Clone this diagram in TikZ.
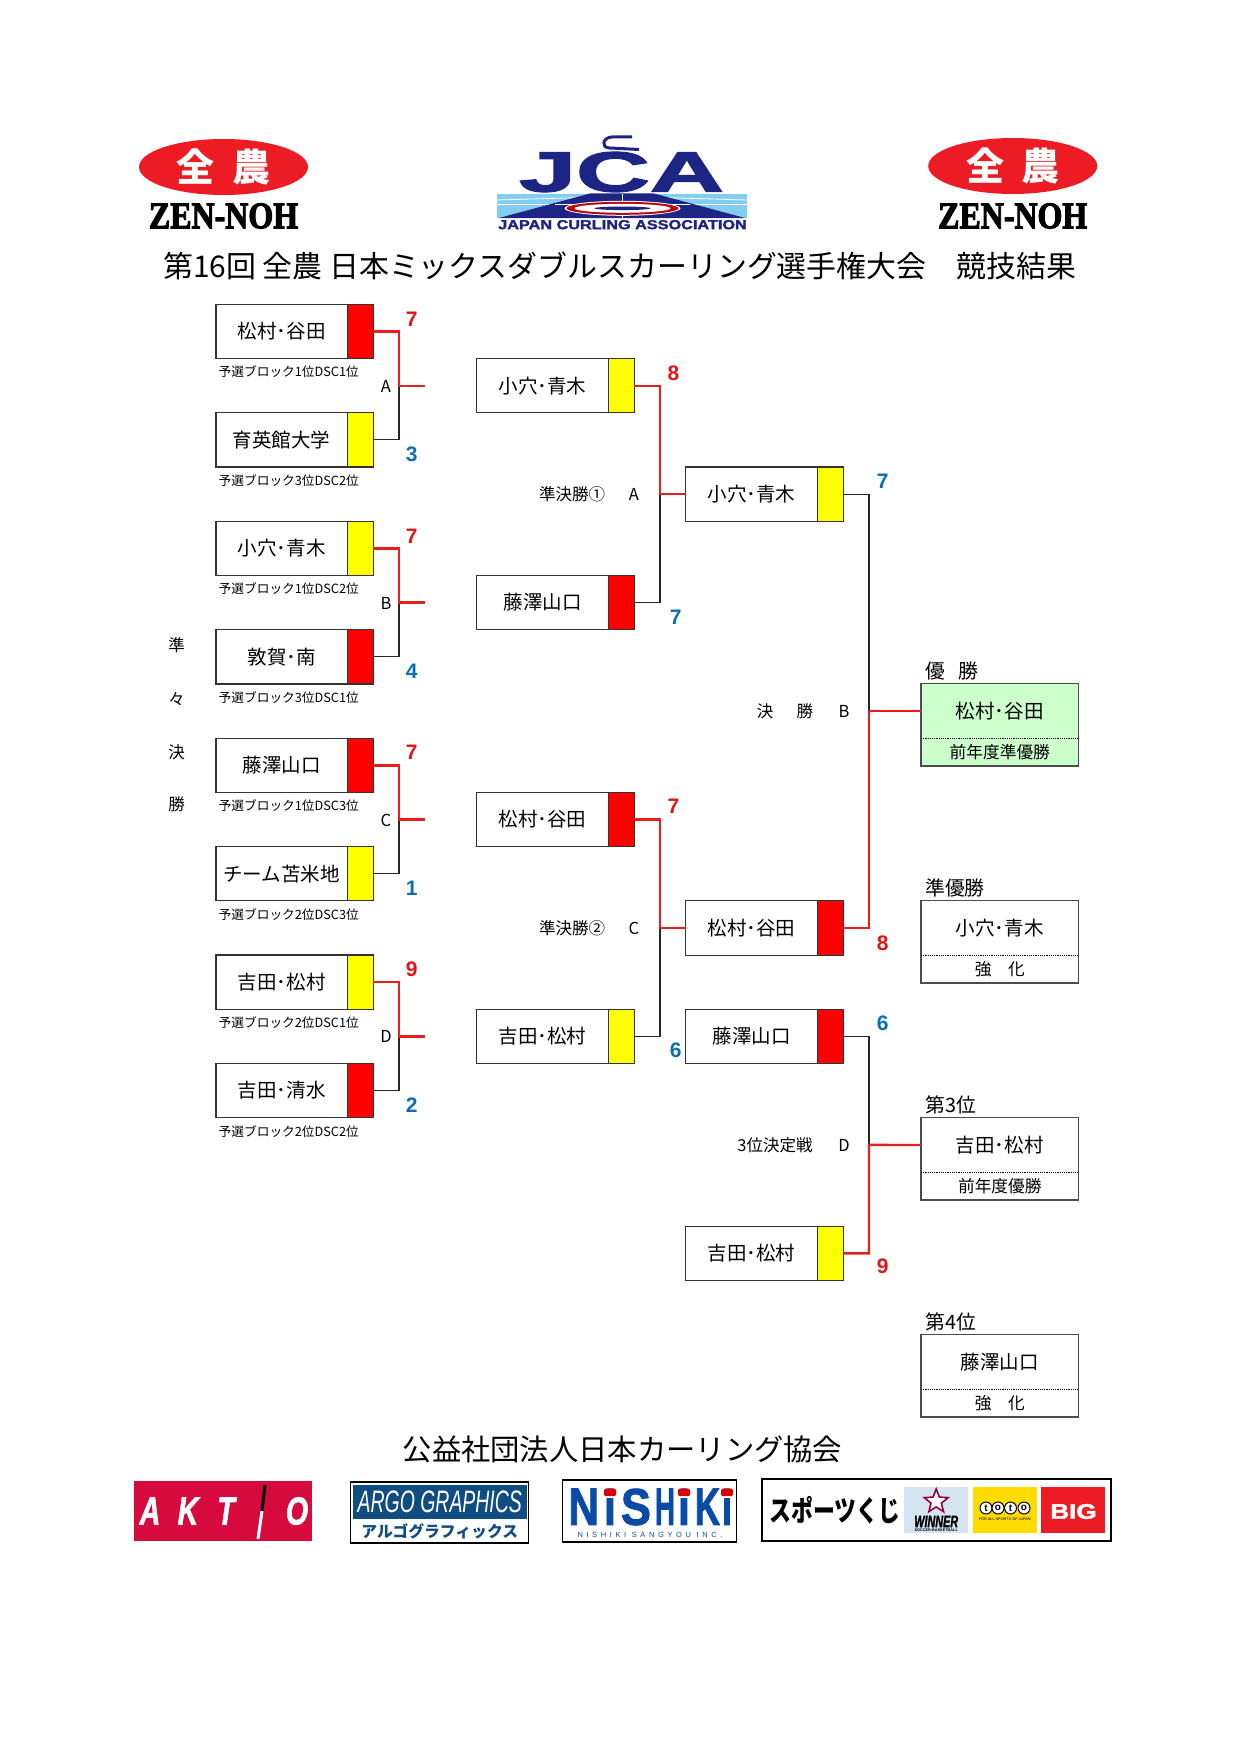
\documentclass[tikz,border=0pt]{standalone}
\usepackage{fontspec}
\setmainfont{Noto Sans CJK JP}
\newfontfamily\latinb{Liberation Sans}
\newfontfamily\latinh{Liberation Sans}[BoldFeatures={FakeBold=2},BoldItalicFeatures={FakeBold=2}]
\newfontfamily\latins{Liberation Sans}[LetterSpace=48]
\newfontfamily\serifh{Liberation Serif}[BoldFeatures={FakeBold=3}]
\usetikzlibrary{positioning,shapes.geometric}
\definecolor{teamyellow}{RGB}{255,255,0}
\definecolor{teamred}{RGB}{255,0,0}
\definecolor{winred}{RGB}{232,30,30}
\definecolor{scorered}{RGB}{225,20,20}
\definecolor{scoreblue}{RGB}{10,110,180}
\definecolor{finalgreen}{RGB}{204,255,204}
\definecolor{zenred}{RGB}{237,28,36}
\definecolor{jcanavy}{RGB}{28,36,132}
\definecolor{jcasky}{RGB}{130,205,240}
\definecolor{aktiored}{RGB}{214,10,60}
\definecolor{argoblue}{RGB}{15,76,129}
\definecolor{nishiblue}{RGB}{10,75,165}
\definecolor{winnerblue}{RGB}{212,228,240}
\definecolor{totoyellow}{RGB}{255,220,0}
\newcommand{\nishil}[2]{\resizebox{#1pt}{36pt}{#2}}
\tikzset{
  teambox/.style={draw=black!80,line width=1.2pt,minimum width=131.5pt,minimum height=54.3pt,
    inner sep=0pt,outer sep=0pt,font=\fontsize{19.5}{20}\selectfont},
  colbox/.style={draw=black!80,line width=1.2pt,minimum width=26pt,minimum height=54.3pt,
    inner sep=0pt,outer sep=0pt},
  lose/.style={black!85,line width=1.1pt},
  win/.style={winred,line width=2.4pt},
  scorewin/.style={scorered,font=\latinb\bfseries\fontsize{21}{22}\selectfont},
  scorelose/.style={scoreblue,font=\latinb\bfseries\fontsize{21}{22}\selectfont},
  capnote/.style={anchor=west,inner sep=0pt,font=\fontsize{12.7}{14}\selectfont},
  lbl/.style={inner sep=0pt,font=\fontsize{16.5}{17}\selectfont},
  headnote/.style={anchor=west,inner sep=0pt,font=\fontsize{19.8}{20}\selectfont},
  resbox/.style={minimum width=157.5pt,inner sep=0pt,outer sep=0pt}
}
\begin{document}
\begin{tikzpicture}[x=1pt,y=-1pt]
\useasboundingbox (0,0) rectangle (1241,1755);

% logos on top
\foreach \nm/\xx/\yy in {zna/223.5/167,znb/1012.7/166} {
  \node[ellipse,fill=zenred,minimum width=169pt,minimum height=56pt,inner sep=0pt] (\nm) at (\xx,\yy) {};
  \node[white,font=\bfseries\fontsize{38}{38}\selectfont,inner sep=0pt] (\nm t) at (\nm) {全\hspace{0.45em}農};
  \node[inner sep=0pt,font=\serifh\bfseries] (\nm b) at (\xx,216) {\scalebox{1.88}[2.2]{\fontsize{17}{18}\selectfont ZEN-NOH}};
}

% JCA logo
\fill[jcasky] (497,194) rectangle (747,218);
\draw[white,line width=0.8pt] (497,200) -- (600,197);
\draw[white,line width=0.8pt] (747,200) -- (645,197);
\draw[white,line width=0.8pt] (497,204) -- (747,204);
\fill[jcanavy] (590,193.5) -- (654,193.5) -- (745,218) -- (499,218) -- cycle;
\draw[white,line width=0.6pt] (622.5,194) -- (622.5,218);
\draw[white,line width=0.6pt] (555,204) -- (690,204);
\fill[white] (622.5,208.3) ellipse (58 and 7.5);
\fill[red!75!black] (622.5,208.3) ellipse (56 and 6.5);
\fill[white] (622.5,208.3) ellipse (48 and 4.5);
\fill[jcanavy] (622.5,208.3) ellipse (28 and 1.8);
\node[jcanavy,inner sep=0pt,font=\latinh\bfseries] (jcat) at (621.5,172) {\scalebox{1.86}[1.03]{\fontsize{55}{56}\selectfont JCA}};
\draw[jcanavy,line width=3pt] (632,137) -- (612,137) .. controls (603,137) and (600,148) .. (610,148) -- (639,149.5);
\node[jcanavy,inner sep=0pt,font=\latinh\bfseries] (jcab) at (622.5,224.7) {\scalebox{1.25}[1]{\fontsize{13}{14}\selectfont JAPAN CURLING ASSOCIATION}};

% title
\node[inner sep=0pt,font=\fontsize{29.9}{30}\selectfont] (title) at (619.5,266) {第16回 全農 日本ミックスダブルスカーリング選手権大会　競技結果};

% quarter finals
\foreach \nm/\yy/\team/\col in {qa/331.5/松村･谷田/teamred,qb/439.9/育英館大学/teamyellow,
  qc/548.4/小穴･青木/teamyellow,qd/656.8/敦賀･南/teamred,qe/765.3/藤澤山口/teamred,
  qf/873.7/チーム苫米地/teamyellow,qg/982.2/吉田･松村/teamyellow,qh/1090.6/吉田･清水/teamred} {
  \node[teambox] (\nm) at (281.7,\yy) {\team};
  \node[colbox,fill=\col,right=0pt of \nm] (\nm c) {};
}
\foreach \nm/\yy/\pos/\dsc in {qa/372/1/1,qb/480.5/3/2,qc/589/1/2,qd/697.5/3/1,
  qe/806/1/3,qf/914.5/2/3,qg/1023/2/1,qh/1131.5/2/2} {
  \node[capnote] (\nm n) at (218.5,\yy) {予選ブロック\pos 位DSC\dsc 位};
}
\foreach \i/\yy/\ch in {1/645.5/準,2/699/々,3/752/決,4/804.5/勝} {
  \node[lbl] (qv\i) at (176.5,\yy) {\ch};
}

% semi finals and finals
\foreach \nm/\xx/\yy/\team/\col in {sa/542.5/385.7/小穴･青木/teamyellow,sb/542.5/602.6/藤澤山口/teamred,
  sc/542.5/819.5/松村･谷田/teamred,sd/542.5/1036.4/吉田･松村/teamyellow,
  fa/751.5/494.1/小穴･青木/teamyellow,fb/751.5/928/松村･谷田/teamred,
  fc/751.5/1036.4/藤澤山口/teamred,fd/751.5/1253.3/吉田･松村/teamyellow} {
  \node[teambox] (\nm) at (\xx,\yy) {\team};
  \node[colbox,fill=\col,right=0pt of \nm] (\nm c) {};
}

% results
\foreach \nm/\yy/\hd/\team/\note/\col in {ra/711/優\hspace{13pt}勝/松村･谷田/前年度準優勝/finalgreen,
  rb/928/準優勝/小穴･青木/強　化/white,rc/1145/第3位/吉田･松村/前年度優勝/white,
  rd/1362/第4位/藤澤山口/強　化/white} {
  \node[resbox,minimum height=54.7pt,fill=\col,font=\fontsize{19.5}{20}\selectfont] (\nm) at (999.8,\yy) {\team};
  \node[resbox,minimum height=27.7pt,fill=\col,below=0pt of \nm,font=\fontsize{16.7}{18}\selectfont] (\nm s) {\note};
  \draw[black!70,line width=1.2pt] (\nm.north west) rectangle (\nm s.south east);
  \draw[black,line width=1.2pt,densely dotted] (\nm.south west) -- (\nm.south east);
  \node[headnote] (\nm h) at (925,\yy-40.5) {\hd};
}

% junctions
\foreach \nm/\xx/\yy in {ja/399/385.7,jb/399/602.6,jc/399/819.5,jd/399/1036.4,
  je/660/494.1,jf/660/928,jg/869/711,jh/869/1144.9} {
  \coordinate (\nm) at (\xx,\yy);
}
\foreach \nm/\yy in {ea/385.7,eb/602.6,ec/819.5,ed/1036.4} {
  \coordinate (\nm) at (425,\yy);
}

% losers first, winners on top
\foreach \a/\j in {qbc/ja,qdc/jb,qfc/jc,qhc/jd,sbc/je,sdc/jf,fac/jg,fcc/jh} {
  \draw[lose] (\a.east) -| (\j);
}
\foreach \a/\j/\e in {qac/ja/ea,qcc/jb/eb,qec/jc/ec,qgc/jd/ed,sac/je/fa,scc/jf/fb,fbc/jg/ra,fdc/jh/rc} {
  \draw[win] (\a.east) -| (\j) -- (\e.west);
}

% scores
\foreach \nm/\xx/\yy/\val in {ta/411.7/319.5/7,tc/411.7/536/7,te/411.7/752.5/7,tg/411.7/969/9,
  tsa/673.5/373.6/8,tsc/673.5/806.7/7,tfb/882.8/943/8,tfd/882.8/1266.6/9} {
  \node[scorewin,inner sep=0pt] (\nm) at (\xx,\yy) {\val};
}
\foreach \nm/\xx/\yy/\val in {tb/411.7/454/3,td/411.7/671/4,tf/411.7/888/1,th/411.7/1105.5/2,
  tsb/675.8/617.6/7,tsd/675.8/1050.6/6,tfa/882.8/481.5/7,tfc/882.8/1023.3/6} {
  \node[scorelose,inner sep=0pt] (\nm) at (\xx,\yy) {\val};
}

% labels
\foreach \nm/\xx/\yy/\txt in {la/386/386/A,lb/386/603/B,lc/386/820/C,ld/386/1036.8/D,
  lsa/634/494/A,lsb/634/928.5/C,lfa/844/711.5/B,lfb/844/1145.5/D,
  lta/572/494/準決勝①,ltb/572/928.5/準決勝②,ltd/775/1145.5/3位決定戦} {
  \node[lbl] (\nm) at (\xx,\yy) {\txt};
}
\node[lbl] (ltc) at (785,711.5) {決\hspace{1.4em}勝};

% footer
\node[inner sep=0pt,font=\fontsize{29.3}{30}\selectfont] (foot) at (622.5,1449) {公益社団法人日本カーリング協会};

% AKTIO
\node[fill=aktiored,minimum width=178pt,minimum height=60pt,inner sep=0pt] (aktio) at (223,1511) {};
\foreach \nm/\xx/\ch in {aa/150/A,ab/188/K,ac/226/T,ad/297/O} {
  \node[white,inner sep=0pt,font=\latinh\bfseries\itshape] (\nm) at (\xx,1511) {\scalebox{0.95}[1.3]{\fontsize{30}{30}\selectfont \ch}};
}
\draw[black,line width=3pt] (265,1485) -- (262,1511);
\draw[white,line width=3pt] (262,1511) -- (258,1539);

% ARGO
\node[draw=black,line width=1.2pt,minimum width=178pt,minimum height=61pt,inner sep=0pt] (argo) at (439.8,1512.5) {};
\fill[argoblue] (353,1484.5) rectangle (526.5,1519);
\node[white,inner sep=0pt,font=\latinb\itshape] (argot) at (439.8,1502) {\scalebox{0.72}[1.15]{\fontsize{27}{28}\selectfont ARGO GRAPHICS}};
\node[argoblue,inner sep=0pt,font=\bfseries\fontsize{15.8}{16}\selectfont] (argok) at (439.8,1531.5) {アルゴグラフィックス};

% NISHIKI
\node[draw=black,line width=1.2pt,minimum width=174pt,minimum height=62pt,inner sep=0pt] (nishi) at (649.5,1511) {};
\node[nishiblue,inner sep=0pt,font=\latinh\bfseries] (nishit) at (650.2,1507) {\nishil{30.5}{N}\kern5pt\nishil{12}{i}\kern5pt\nishil{30}{S}\kern4pt\nishil{20}{H}\kern3pt\nishil{12}{i}\kern5pt\nishil{25}{K}\kern2pt\nishil{10}{i}};
\foreach \nm/\xx in {nda/610,ndb/684,ndc/727} {
  \fill[red!85!black,rounded corners=1.5pt] (\xx-6,1488.5) rectangle (\xx+6,1496);
}
\node[nishiblue,inner sep=0pt,font=\latins] (nishib) at (650,1535) {\fontsize{7.5}{9}\selectfont NISHIKI SANGYOU INC.};

% sports toto
\node[draw=black,line width=1.2pt,minimum width=349pt,minimum height=62pt,inner sep=0pt] (toto) at (936.5,1510) {};
\node[inner sep=0pt,font=\bfseries] (totot) at (835,1510) {\scalebox{0.95}[1.25]{\fontsize{23}{24}\selectfont スポーツくじ}};
\foreach \nm/\xx/\col in {pa/936.2/winnerblue,pb/1004.7/totoyellow,pc/1073/zenred} {
  \node[fill=\col,minimum width=64pt,minimum height=46pt,inner sep=0pt] (\nm) at (\xx,1510) {};
}
\node[star,star points=5,star point ratio=2.3,draw=purple!80!black,fill=white,line width=1.6pt,minimum size=25pt,inner sep=0pt] (pas) at (936.2,1501.5) {};
\node[inner sep=0pt,font=\latinh\bfseries\itshape] (pat) at (936.2,1521.5) {\scalebox{0.72}[1.1]{\fontsize{15}{16}\selectfont WINNER}};
\node[inner sep=0pt,font=\latinb\bfseries\fontsize{3.8}{4}\selectfont] (pau) at (936.2,1530) {SOCCER-BASKETBALL};
\foreach \nm/\xx/\ch in {ca/986/t,cb/998/o,cc/1010.5/t,cd/1024/o} {
  \node[circle,draw=black,line width=1pt,fill=white,minimum size=12pt,inner sep=0pt,font=\latinb\bfseries\fontsize{10}{10}\selectfont] (\nm) at (\xx,1508) {\ch};
}
\node[inner sep=0pt,font=\latinb\fontsize{3.8}{4}\selectfont] (pbu) at (1004.7,1519) {FOR ALL SPORTS OF JAPAN};
\node[white,inner sep=0pt,font=\latinh\bfseries] (pct) at (1073.5,1511.5) {\scalebox{1.3}[1.05]{\fontsize{20}{20}\selectfont BIG}};

\end{tikzpicture}
\end{document}
